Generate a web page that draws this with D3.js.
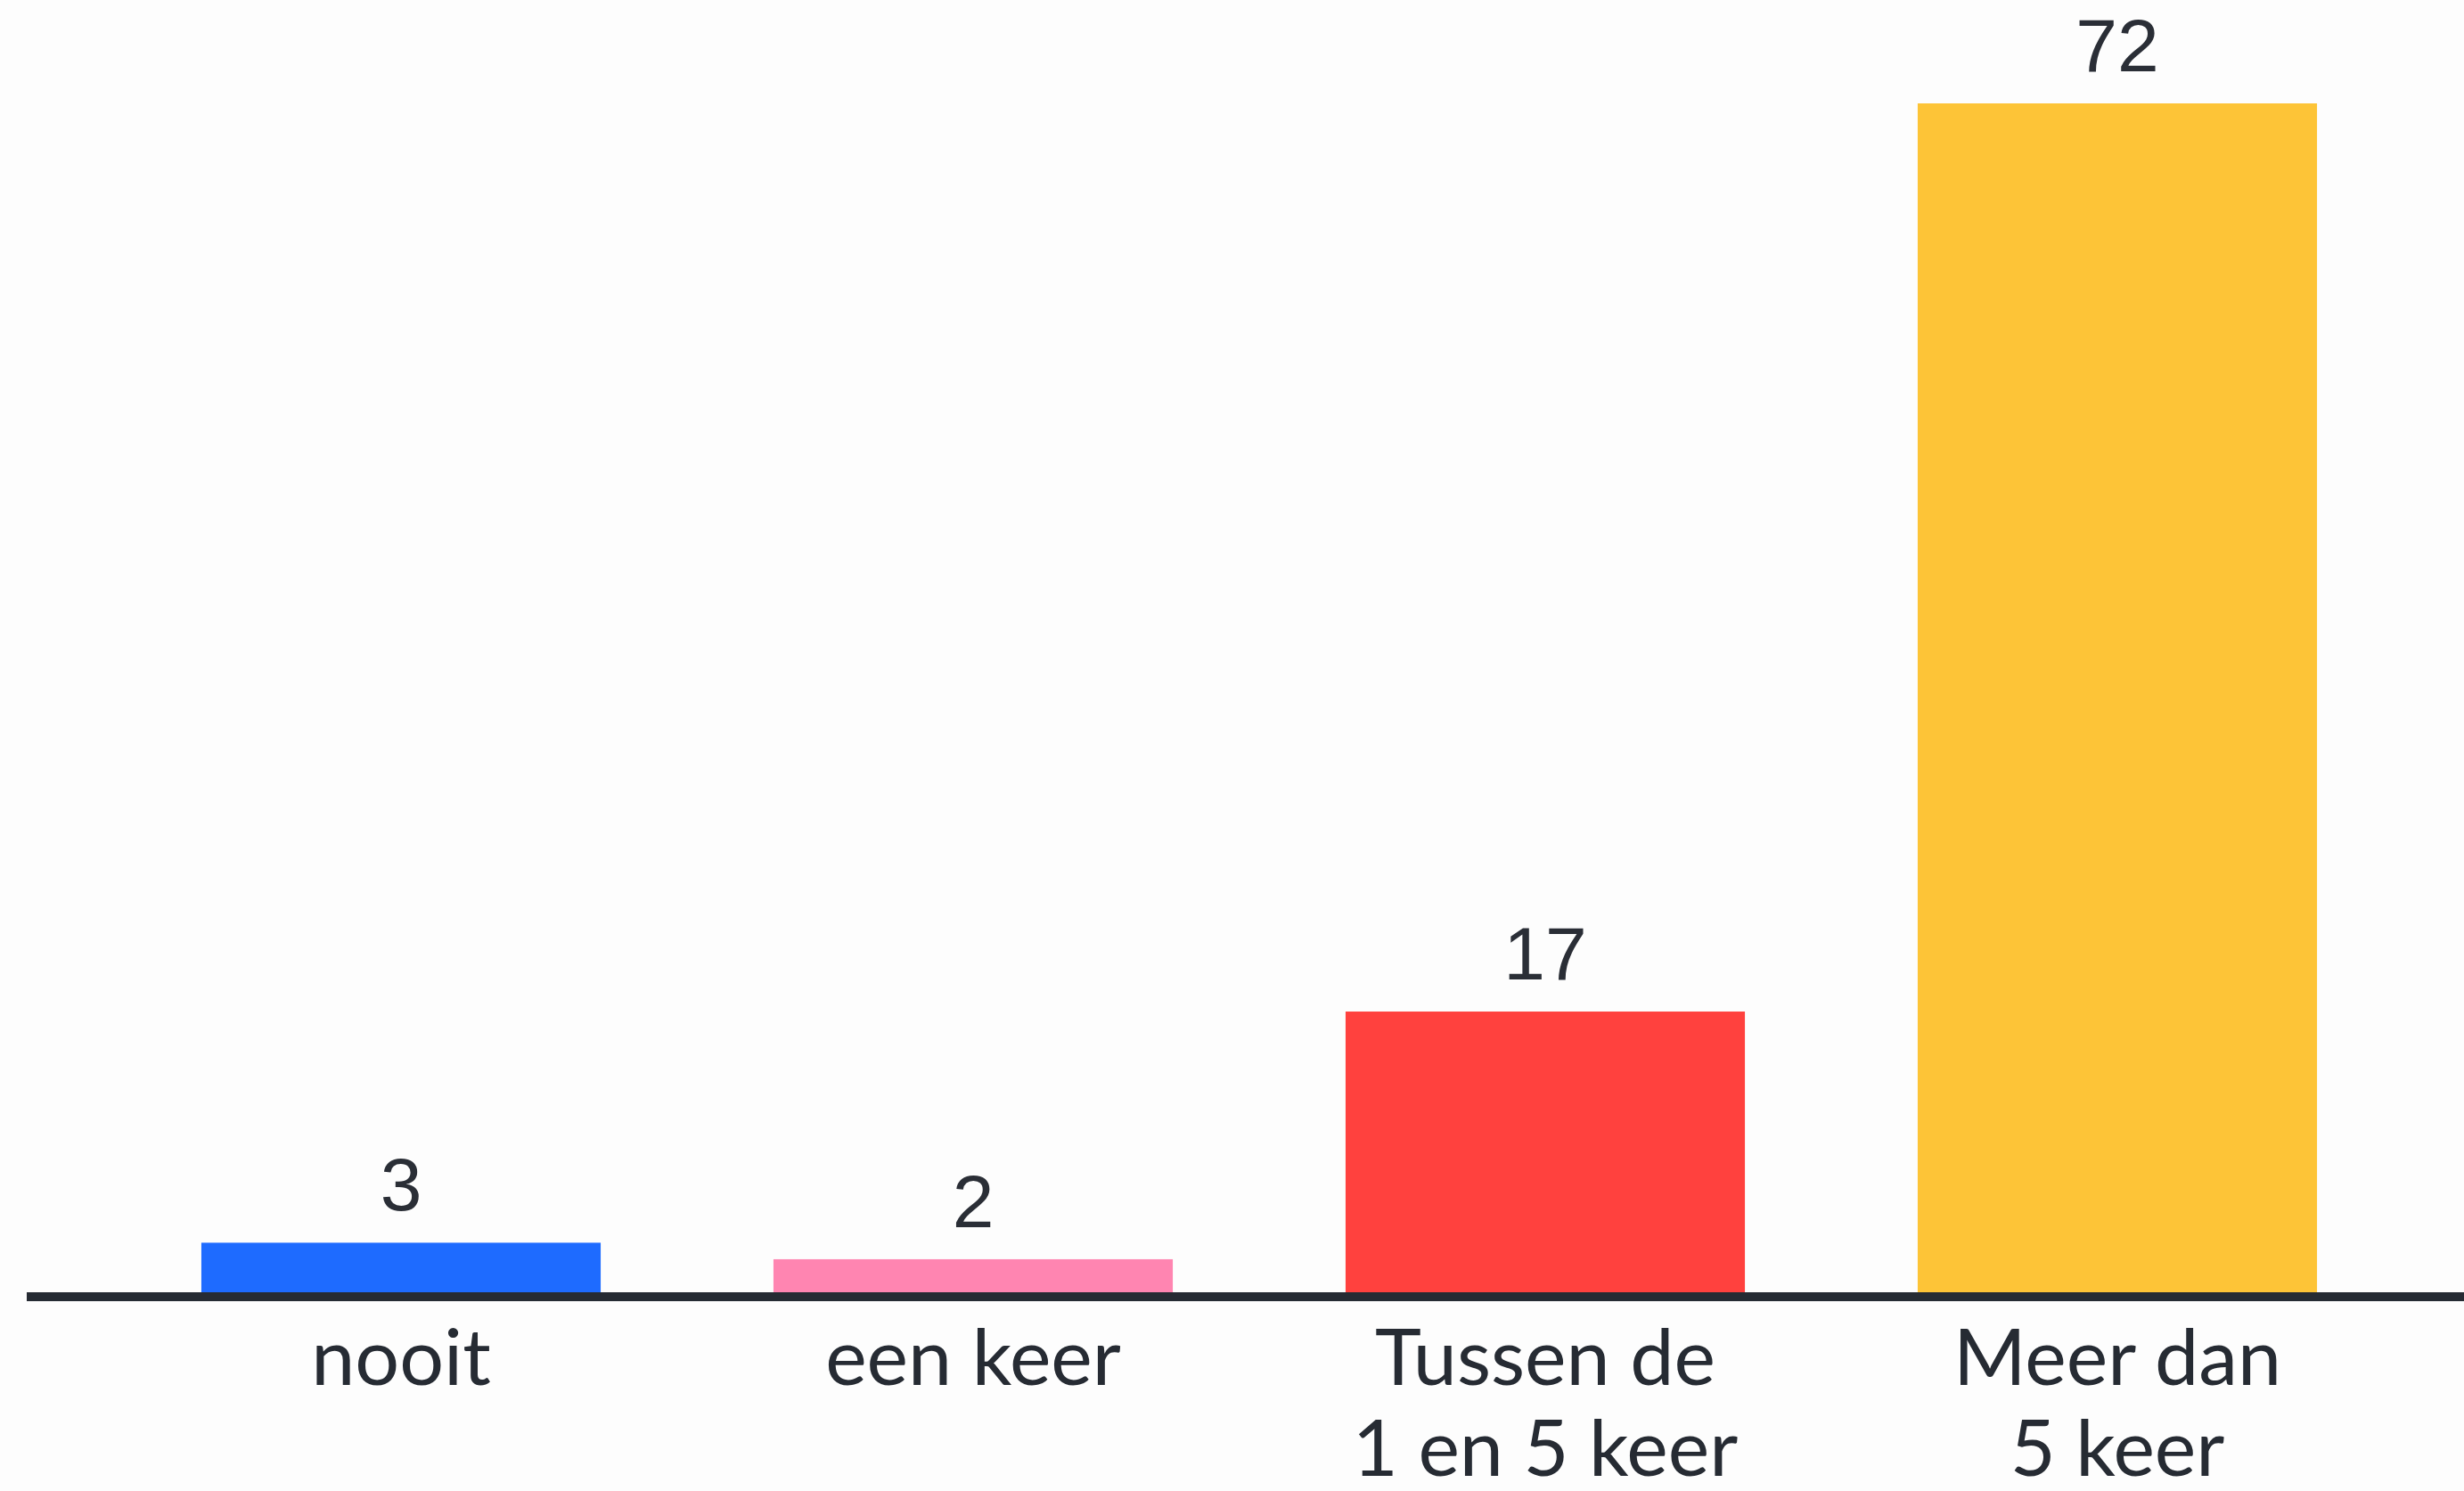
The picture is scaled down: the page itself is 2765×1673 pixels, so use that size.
<!DOCTYPE html>
<html>
<head>
<meta charset="utf-8">
<script src="https://cdn.jsdelivr.net/npm/d3@7"></script>
<style>
  html, body { margin: 0; padding: 0; background: #fdfdfd; }
  #chart svg { display: block; }
</style>
</head>
<body>
<div id="chart"></div>
<script>
const categories = ['nooit', 'een keer', 'Tussen de\n1 en 5 keer', 'Meer dan\n5 keer'];
const values = [3, 2, 17, 72];
const colors = ['#1e6bff', '#ff85b1', '#ff413e', '#fdc437'];

const width = 2765;
const height = 1673;
const baseline = 1450;

const svg = d3.select('#chart')
              .append('svg')
              .attr('width', width)
              .attr('height', height);

const xScale = d3.scaleBand()
                 .domain(categories)
                 .range([129, 2697])
                 .paddingInner(0.302)
                 .paddingOuter(0.151);

const yScale = d3.scaleLinear()
                 .domain([0, 72])
                 .range([baseline, 116]);

svg.selectAll('.bar')
   .data(values)
   .enter()
   .append('rect')
   .attr('class', 'bar')
   .attr('x', (d, i) => xScale(categories[i]))
   .attr('y', d => yScale(d))
   .attr('width', xScale.bandwidth())
   .attr('height', d => baseline - yScale(d))
   .attr('fill', (d, i) => colors[i]);

svg.selectAll('.value')
   .data(values)
   .enter()
   .append('text')
   .attr('class', 'value')
   .attr('x', (d, i) => xScale(categories[i]) + xScale.bandwidth() / 2)
   .attr('y', d => yScale(d) - 36)
   .attr('text-anchor', 'middle')
   .attr('font-family', '"Liberation Sans", Arial, sans-serif')
   .attr('font-size', 84)
   .attr('fill', '#2a2e36')
   .text(d => d);

// baseline
svg.append('line')
   .attr('x1', 30)
   .attr('x2', width)
   .attr('y1', baseline + 5)
   .attr('y2', baseline + 5)
   .attr('stroke', '#262b33')
   .attr('stroke-width', 10);

const xAxis = d3.axisBottom(xScale).tickSize(0).tickPadding(0);

const axisG = svg.append('g')
                 .attr('transform', `translate(0, ${baseline})`)
                 .call(xAxis);

axisG.select('.domain').remove();

axisG.selectAll('.tick text')
     .attr('font-family', 'Lato, "Noto Sans", sans-serif')
     .attr('font-size', 88)
     .attr('fill', '#262b33')
     .attr('dy', null)
     .attr('y', null)
     .each(function(d) {
       const t = d3.select(this);
       const lines = d.split('\n');
       t.text(null);
       lines.forEach((line, i) => {
         t.append('tspan')
          .attr('x', 0)
          .attr('y', 104 + i * 102)
          .text(line);
       });
     });
</script>
</body>
</html>
